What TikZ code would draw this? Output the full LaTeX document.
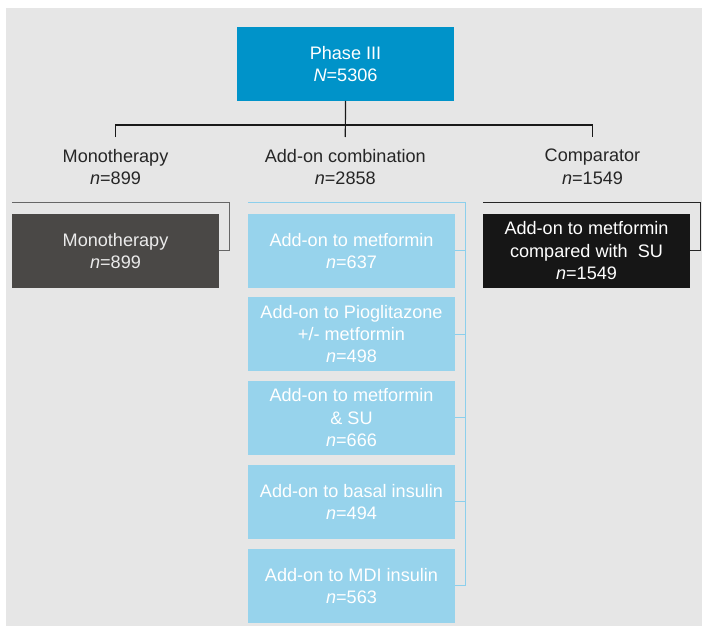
\documentclass[tikz,border=0pt]{standalone}
\usepackage{fontspec}
\setmainfont{Liberation Sans}
\usepackage{tikz}

\definecolor{bggrey}{HTML}{E6E6E6}
\definecolor{phaseblue}{HTML}{0093C9}
\definecolor{addblue}{HTML}{97D3EC}
\definecolor{addline}{HTML}{8CCFEC}
\definecolor{monogrey}{HTML}{4A4846}
\definecolor{compblack}{HTML}{161616}

\tikzset{
  box/.style={minimum width=207pt,minimum height=73.5pt,inner sep=0pt,align=center,
    font=\fontsize{18.1}{22.4}\selectfont},
  grouplabel/.style={anchor=north,inner xsep=0pt,inner ysep=12pt,align=center,
    font=\fontsize{18.1}{22.6}\selectfont,text=black!85},
  addbox/.style={box,fill=addblue,text=white},
}

\begin{document}
\begin{tikzpicture}[x=1pt,y=-1pt]
\useasboundingbox (0,0) rectangle (702,626);
\fill[bggrey] (6,8) rectangle (702,626);
\node[box,fill=phaseblue,text=white,minimum width=217pt] (phase) at (345.5,64) {Phase III\\\textit{N}=5306};
\node[grouplabel] (monolbl) at (115.5,137) {Monotherapy\\\textit{n}=899};
\node[grouplabel] (addlbl) at (345.3,137) {Add-on combination\\\textit{n}=2858};
\node[grouplabel] (complbl) at (592.5,137) {Comparator\\\textit{n}=1549};
\node[box,fill=monogrey,text=white!92!black] (mono) at (115.5,250.8) {Monotherapy\\\textit{n}=899};
\node[box,fill=compblack,text=white] (comp) at (586.5,250.8) {Add-on to metformin\\compared with\ \ SU\\\textit{n}=1549};
\node[addbox] (add1) at (351.5,250.8) {Add-on to metformin\\\textit{n}=637};
\node[addbox] (add2) at (351.5,334) {Add-on to Pioglitazone\\+/- metformin\\\textit{n}=498};
\node[addbox] (add3) at (351.5,417.8) {Add-on to metformin\\\& SU\\\textit{n}=666};
\node[addbox] (add4) at (351.5,501.8) {Add-on to basal insulin\\\textit{n}=494};
\node[addbox] (add5) at (351.5,585.8) {Add-on to MDI insulin\\\textit{n}=563};
% tree
\draw[line width=1.2pt,black!90] (phase.south) -- (addlbl.north);
\draw[line width=1.2pt,black!90] (monolbl.north) -- ++(0,-12) -| (complbl.north);
% brackets
\coordinate (monotop) at (12,202);
\coordinate (comptop) at (483,202.5);
\coordinate (addtop) at (248,202);
\draw[line width=0.9pt,black!60] (monotop) -- ++(217,0) |- (mono.east);
\draw[line width=0.9pt,black!85] (comptop) -- ++(217.5,0) |- (comp.east);
\draw[line width=1pt,addline] (addtop) -- ++(217,0) |- (add5.east);
\foreach \i in {1,...,4}
  \draw[line width=1pt,addline] (add\i.east) -- ++(10,0);
\end{tikzpicture}
\end{document}
